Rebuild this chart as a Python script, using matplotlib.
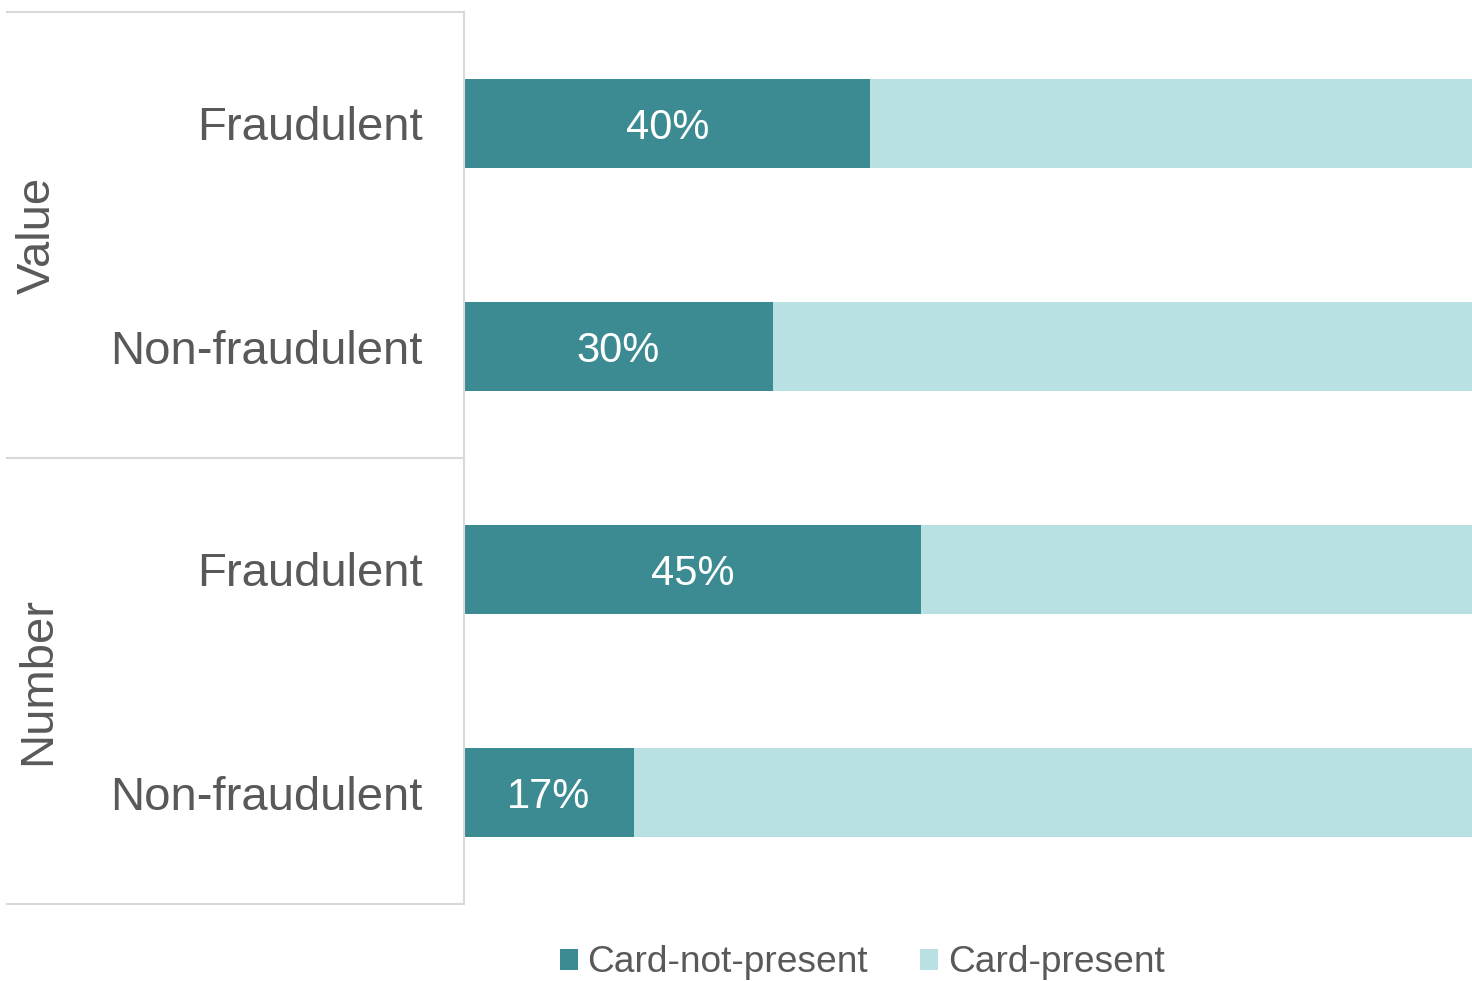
import matplotlib
matplotlib.use("Agg")
import matplotlib.pyplot as plt
from matplotlib.patches import Patch
import matplotlib.transforms as mtransforms

plt.rcParams['font.family'] = ['Liberation Sans', 'DejaVu Sans']

# ---- data ----
groups = ["Value", "Number"]
categories = ["Fraudulent", "Non-fraudulent", "Fraudulent", "Non-fraudulent"]
card_not_present = [0.40, 0.304, 0.45, 0.167]
card_present = [1 - v for v in card_not_present]
series_names = ["Card-not-present", "Card-present"]

dark = "#3D8B92"
light = "#B9E0E3"
text_col = "#595959"
line_col = "#D9D9D9"

W, H = 1472, 981
fig = plt.figure(figsize=(W / 100, H / 100), dpi=100)
ax = fig.add_axes([464 / W, (H - 904) / H, 1016 / W, 892 / H])

y = list(range(len(categories)))
ax.barh(y, card_not_present, height=0.4, color=dark, linewidth=0)
ax.barh(y, card_present, left=card_not_present, height=0.4, color=light, linewidth=0)

for yi, v in zip(y, card_not_present):
    ax.text(v / 2, yi, f"{round(v * 100):d}%", ha="center", va="center_baseline",
            color="white", fontsize=30)

ax.set_xlim(0, 1)
ax.set_ylim(len(categories) - 0.5, -0.5)
ax.set_xticks([])
ax.set_yticks(y)
ax.set_yticklabels(categories, fontsize=34, color=text_col)
ax.tick_params(axis="y", length=0, pad=30)
for s in ["top", "right", "bottom"]:
    ax.spines[s].set_visible(False)
ax.spines["left"].set_color(line_col)
ax.spines["left"].set_linewidth(1.5)

# group separators
trans = mtransforms.blended_transform_factory(ax.transAxes, ax.transData)
left_frac = -(464 - 7) / 1016
for yb in [-0.5, 1.5, 3.5]:
    ax.plot([left_frac, 0], [yb, yb], transform=trans, color=line_col,
            lw=1.5, clip_on=False)

# group labels
gx = -(464 - 38) / 1016
for gi, g in enumerate(groups):
    ax.text(gx, gi * 2 + 0.5, g, transform=trans, rotation=90, ha="center",
            va="center", fontsize=34, color=text_col)

handles = [Patch(facecolor=dark, edgecolor="none"), Patch(facecolor=light, edgecolor="none")]
fig.legend(handles, series_names, loc="center", bbox_to_anchor=(862 / W, 1 - 963 / H),
           ncol=2, frameon=False, fontsize=26.7, labelcolor=text_col,
           handlelength=0.5, handleheight=0.5, handletextpad=0.25, columnspacing=1.4)

fig.savefig("out.png", dpi=100)
